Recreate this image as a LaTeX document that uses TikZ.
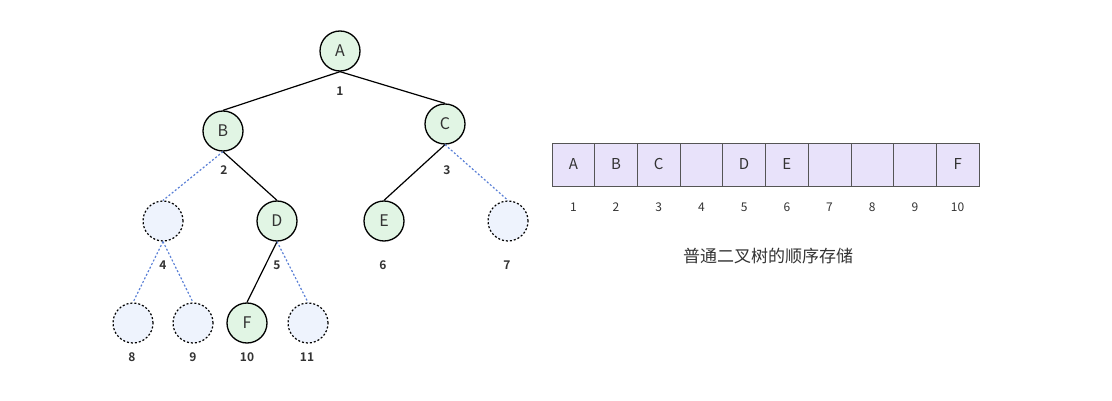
\documentclass[tikz,border=0pt]{standalone}
\usepackage{fontspec}
\setmainfont{Noto Sans CJK SC}[BoldFont={* Bold}]
\newfontfamily\cjk{Noto Sans CJK SC}
\definecolor{txt}{HTML}{333333}
\definecolor{nodegreen}{HTML}{E1F5E4}
\definecolor{nodeblue}{HTML}{EEF3FD}
\definecolor{edgeblue}{HTML}{5B80D6}
\definecolor{cellfill}{HTML}{E8E2FA}
\definecolor{cellline}{HTML}{555555}
\begin{document}
\begin{tikzpicture}[x=1pt,y=-1pt,
  tnode/.style={circle,draw=black,line width=1.3pt,fill=nodegreen,minimum size=40pt,inner sep=0pt,font=\fontsize{16}{16}\selectfont,text=txt},
  enode/.style={circle,draw=black,line width=1.2pt,dash pattern=on 2pt off 2pt,fill=nodeblue,minimum size=40pt,inner sep=0pt},
  idx/.style={font=\fontsize{12}{12}\selectfont\bfseries,text=txt},
  solidedge/.style={draw=black,line width=1.2pt},
  dotedge/.style={draw=edgeblue,line width=1.2pt,dash pattern=on 2pt off 2pt},
  cell/.style={draw=cellline,line width=0.8pt,fill=cellfill,minimum width=42.7pt,minimum height=43pt,inner sep=0pt,font=\fontsize{15}{15}\selectfont,text=txt},
  aidx/.style={font=\fontsize{12}{12}\selectfont,text=txt}
]
\useasboundingbox (0,0) rectangle (1112,401);
% tree nodes
\node[tnode] (A) at (340,51) {A};
\node[tnode] (B) at (223,131) {B};
\node[tnode] (C) at (445,124) {C};
\node[enode] (n4) at (163,221) {};
\node[tnode] (D) at (277,221) {D};
\node[tnode] (E) at (384,221) {E};
\node[enode] (n7) at (508,221) {};
\node[enode] (n8) at (133,323) {};
\node[enode] (n9) at (193,323) {};
\node[tnode] (F) at (247,323) {F};
\node[enode] (n11) at (308,323) {};
% edges
\draw[solidedge] (A.south) -- (B.north);
\draw[solidedge] (A.south) -- (C.north);
\draw[dotedge] (B.south) -- (n4.north);
\draw[solidedge] (B.south) -- (D.north);
\draw[solidedge] (C.south) -- (E.north);
\draw[dotedge] (C.south) -- (n7.north);
\draw[dotedge] (n4.south) -- (n8.north);
\draw[dotedge] (n4.south) -- (n9.north);
\draw[solidedge] (D.south) -- (F.north);
\draw[dotedge] (D.south) -- (n11.north);
% tree indices
\node[idx] (i1) at (340,91) {1};
\node[idx] (i2) at (224,170) {2};
\node[idx] (i3) at (447,170) {3};
\node[idx] (i4) at (163,265) {4};
\node[idx] (i5) at (277,265) {5};
\node[idx] (i6) at (383,265) {6};
\node[idx] (i7) at (507,265) {7};
\node[idx] (i8) at (132,357) {8};
\node[idx] (i9) at (193,357) {9};
\node[idx] (i10) at (247,357) {10};
\node[idx] (i11) at (307,357) {11};
% array
\foreach \i/\t in {1/A,2/B,3/C,4/{},5/D,6/E,7/{},8/{},9/{},10/F}{
  \node[cell] (c\i) at ({552+42.7*(\i-0.5)},164.5) {\t};
  \node[aidx] (a\i) at ({552+42.7*(\i-0.5)},207) {\i};
}
\node[font=\fontsize{17}{17}\selectfont,text=txt] (cap) at (768,256) {普通二叉树的顺序存储};
\end{tikzpicture}
\end{document}
